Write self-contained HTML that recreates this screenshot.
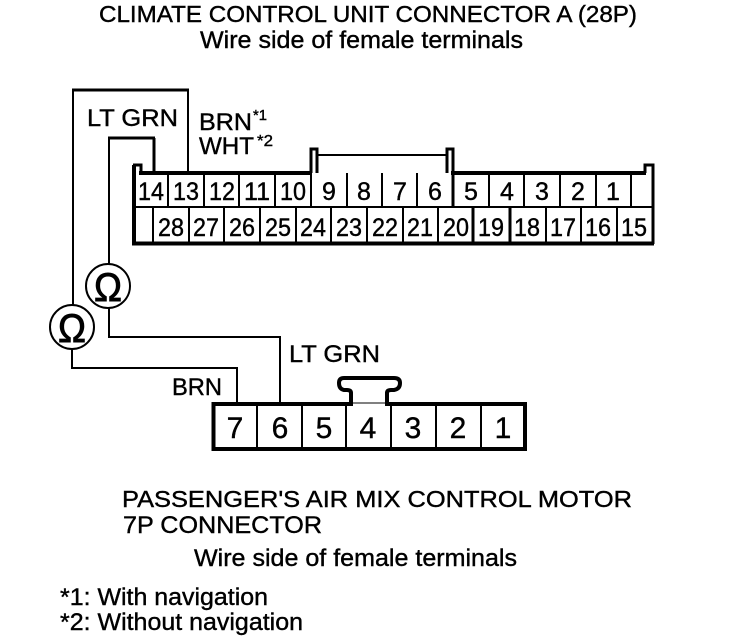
<!DOCTYPE html>
<html>
<head>
<meta charset="utf-8">
<style>
html,body{margin:0;padding:0;background:#fff;}
svg{display:block;}
text{font-family:"Liberation Sans",sans-serif;fill:#000;stroke:#000;stroke-width:.4;}
.l{fill:none;stroke:#000;shape-rendering:crispEdges;}
</style>
</head>
<body>
<svg width="752" height="644" viewBox="0 0 752 644" xmlns="http://www.w3.org/2000/svg">
<!-- Titles -->
<text x="99" y="22" font-size="23" textLength="538" lengthAdjust="spacingAndGlyphs">CLIMATE CONTROL UNIT CONNECTOR A (28P)</text>
<text x="200" y="48" font-size="24" textLength="323" lengthAdjust="spacingAndGlyphs">Wire side of female terminals</text>

<!-- Wire labels -->
<text x="87" y="126" font-size="24" textLength="91" lengthAdjust="spacingAndGlyphs">LT GRN</text>
<text x="199" y="130" font-size="24" textLength="53" lengthAdjust="spacingAndGlyphs">BRN</text>
<text x="253" y="120" font-size="15" textLength="14" lengthAdjust="spacingAndGlyphs">*1</text>
<text x="199" y="154" font-size="24" textLength="55" lengthAdjust="spacingAndGlyphs">WHT</text>
<text x="257" y="146" font-size="16" textLength="16" lengthAdjust="spacingAndGlyphs">*2</text>

<!-- Wires, upper -->
<path class="l" stroke-width="2" d="M73 305V90"/>
<path class="l" stroke-width="3" d="M72 90H189"/>
<path class="l" stroke-width="2" d="M188 90V172"/>
<path class="l" stroke-width="2" d="M109 264V138"/>
<path class="l" stroke-width="3" d="M108 138H155"/>
<path class="l" stroke-width="3" d="M154 138V172"/>

<!-- 28P outline -->
<path class="l" stroke-width="4" d="M134 245V165"/>
<path class="l" stroke-width="3" d="M133 165H141V173"/>
<path class="l" stroke-width="4" d="M139 173H312"/>
<path class="l" stroke-width="3" d="M311 173V149H317V173"/>
<path class="l" stroke-width="3" d="M447 173V149H453V173"/>
<path class="l" stroke-width="4" d="M451 173H646"/>
<path class="l" stroke-width="3" d="M645 173V165H653V244"/>
<path class="l" stroke-width="4" d="M132 243.5H654"/>
<path class="l" stroke-width="2" d="M317 155H447"/>
<path class="l" stroke-width="2" d="M134 207H652"/>
<!-- upper row dividers -->
<path class="l" stroke-width="2" d="M168 173V207M204 173V207M239 173V207M275 173V207M311 173V207M347 173V207M382 173V207M417 173V207M489 173V207M524 173V207M560 173V207M596 173V207M631 173V207"/>
<path class="l" stroke-width="3" d="M453 173V207"/>
<!-- lower row dividers -->
<path class="l" stroke-width="2" d="M153 207V243M189 207V243M224 207V243M260 207V243M296 207V243M331 207V243M367 207V243M403 207V243M438 207V243M546 207V243M581 207V243M617 207V243"/>
<path class="l" stroke-width="3" d="M473 207V243M510 207V243"/>

<!-- 28P numbers, upper -->
<g font-size="25" text-anchor="middle">
<text x="151" y="200" textLength="26" lengthAdjust="spacingAndGlyphs">14</text>
<text x="186" y="200" textLength="26" lengthAdjust="spacingAndGlyphs">13</text>
<text x="222" y="200" textLength="26" lengthAdjust="spacingAndGlyphs">12</text>
<text x="257" y="200" textLength="26" lengthAdjust="spacingAndGlyphs">11</text>
<text x="293" y="200" textLength="26" lengthAdjust="spacingAndGlyphs">10</text>
<text x="329" y="200">9</text>
<text x="364" y="200">8</text>
<text x="400" y="200">7</text>
<text x="435" y="200">6</text>
<text x="471" y="200">5</text>
<text x="507" y="200">4</text>
<text x="542" y="200">3</text>
<text x="578" y="200">2</text>
<text x="613" y="200">1</text>
<!-- lower -->
<text x="171" y="236" textLength="26" lengthAdjust="spacingAndGlyphs">28</text>
<text x="206" y="236" textLength="26" lengthAdjust="spacingAndGlyphs">27</text>
<text x="242" y="236" textLength="26" lengthAdjust="spacingAndGlyphs">26</text>
<text x="278" y="236" textLength="26" lengthAdjust="spacingAndGlyphs">25</text>
<text x="313" y="236" textLength="26" lengthAdjust="spacingAndGlyphs">24</text>
<text x="349" y="236" textLength="26" lengthAdjust="spacingAndGlyphs">23</text>
<text x="385" y="236" textLength="26" lengthAdjust="spacingAndGlyphs">22</text>
<text x="420" y="236" textLength="26" lengthAdjust="spacingAndGlyphs">21</text>
<text x="456" y="236" textLength="26" lengthAdjust="spacingAndGlyphs">20</text>
<text x="491" y="236" textLength="26" lengthAdjust="spacingAndGlyphs">19</text>
<text x="527" y="236" textLength="26" lengthAdjust="spacingAndGlyphs">18</text>
<text x="563" y="236" textLength="26" lengthAdjust="spacingAndGlyphs">17</text>
<text x="598" y="236" textLength="26" lengthAdjust="spacingAndGlyphs">16</text>
<text x="634" y="236" textLength="26" lengthAdjust="spacingAndGlyphs">15</text>
</g>

<!-- Ohm meters -->
<circle cx="108" cy="286" r="22" fill="#fff" stroke="#000" stroke-width="2"/>
<circle cx="72" cy="327" r="22" fill="#fff" stroke="#000" stroke-width="2"/>
<text x="94" y="301" font-size="40" textLength="28" lengthAdjust="spacingAndGlyphs" style="stroke-width:.9">Ω</text>
<text x="58" y="342" font-size="40" textLength="28" lengthAdjust="spacingAndGlyphs" style="stroke-width:.9">Ω</text>

<!-- Wires, lower -->
<path class="l" stroke-width="2" d="M109 308V337H280V403"/>
<path class="l" stroke-width="2" d="M72 349V368H237V403"/>
<text x="172" y="395" font-size="24" textLength="50" lengthAdjust="spacingAndGlyphs">BRN</text>
<text x="289" y="362" font-size="24" textLength="91" lengthAdjust="spacingAndGlyphs">LT GRN</text>

<!-- 7P connector -->
<rect class="l" x="213.5" y="404" width="311.5" height="45" stroke-width="4"/>
<path class="l" stroke-width="2" d="M257 404V449M302 404V449M346 404V449M391 404V449M436 404V449M481 404V449"/>
<path fill="none" stroke="#000" stroke-width="4" d="M351 403V393Q351 390 347 390H344Q339 389 339 383Q339 378 344 378H394Q400 378 400 383Q400 389 394 390H391Q387 390 387 393V403"/>
<rect x="353" y="402" width="32" height="4" fill="#fff"/>
<path class="l" stroke-width="1" d="M353 403H385"/>
<g font-size="30" text-anchor="middle">
<text x="235" y="438">7</text>
<text x="280" y="438">6</text>
<text x="324" y="438">5</text>
<text x="368" y="438">4</text>
<text x="413" y="438">3</text>
<text x="458" y="438">2</text>
<text x="503" y="438">1</text>
</g>

<!-- Lower text -->
<text x="122" y="507" font-size="23" textLength="510" lengthAdjust="spacingAndGlyphs">PASSENGER'S AIR MIX CONTROL MOTOR</text>
<text x="123" y="533" font-size="24" textLength="199" lengthAdjust="spacingAndGlyphs">7P CONNECTOR</text>
<text x="194" y="566" font-size="24" textLength="323" lengthAdjust="spacingAndGlyphs">Wire side of female terminals</text>
<text x="60" y="605" font-size="24" textLength="208" lengthAdjust="spacingAndGlyphs">*1: With navigation</text>
<text x="60" y="630" font-size="24" textLength="243" lengthAdjust="spacingAndGlyphs">*2: Without navigation</text>
</svg>
</body>
</html>
